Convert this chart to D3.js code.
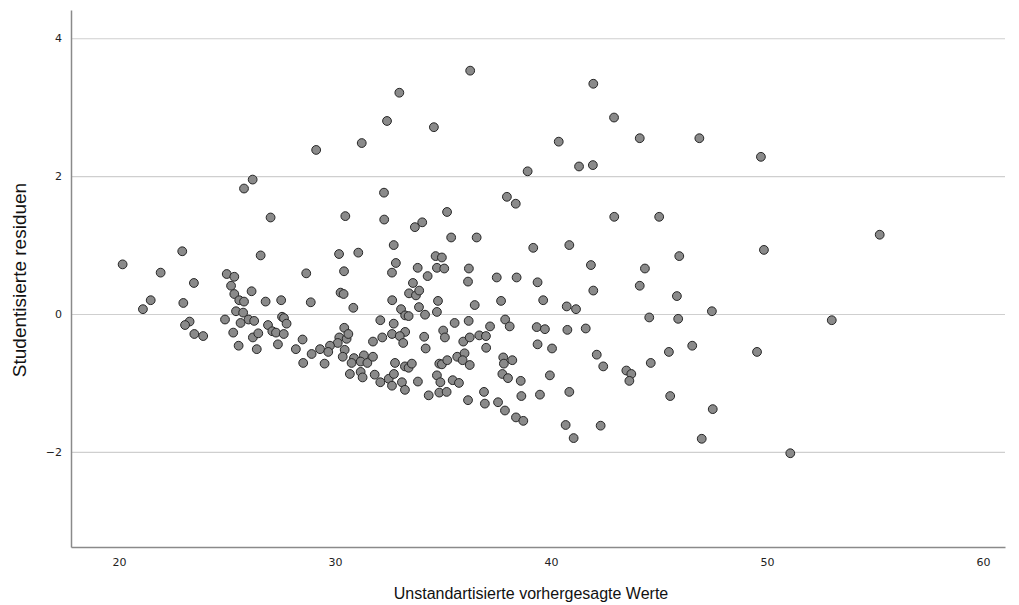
<!DOCTYPE html>
<html lang="de">
<head>
<meta charset="UTF-8">
<title>Streudiagramm Residuen</title>
<style>
    body { margin: 0; background: #fff; }
    .tick text { font-family: "DejaVu Sans", sans-serif; font-size: 11px; fill: #222; }
    .axis-title { font-family: "Liberation Sans", Arial, sans-serif; font-size: 16px; fill: #111; }
    .axis-title.y { font-size: 19px; }
</style>
</head>
<body>
<svg id="chart" width="1019" height="605"></svg>
<script src="https://d3js.org/d3.v7.min.js"></script>
<script>
// vorhergesagte Werte (x) und studentisierte Residuen (y)
const predicted = [
    25.79, 26.19, 22.93, 20.17, 21.93, 23.47, 24.99, 25.34, 25.19, 25.34,
    25.57, 25.79, 26.14, 21.47, 21.11, 22.98, 25.42, 25.75, 26.00, 24.91,
    25.63, 23.27, 23.06, 23.49, 23.90, 25.29, 25.54, 26.20, 26.56, 30.19,
    31.08, 28.67, 30.42, 26.79, 27.51, 28.88, 30.26, 30.40, 30.85, 26.26,
    27.55, 27.64, 26.90, 27.76, 27.10, 27.27, 27.63, 26.45, 26.38, 27.36,
    28.50, 28.19, 30.43, 30.20, 30.54, 30.62, 30.13, 29.77, 29.31, 29.69,
    28.92, 30.45, 30.36, 28.53, 29.52, 30.88, 30.77, 31.34, 31.19, 31.50,
    30.69, 31.19, 31.28, 35.38, 36.56, 32.72, 34.66, 34.95, 32.82, 32.64,
    33.83, 34.72, 35.06, 34.29, 36.20, 36.16, 33.61, 33.43, 33.75, 33.90,
    32.65, 34.77, 36.47, 33.06, 33.89, 34.72, 33.25, 33.41, 34.17, 32.10,
    32.72, 35.54, 36.19, 37.18, 33.25, 32.64, 33.00, 33.16, 32.19, 31.76,
    35.01, 35.09, 34.13, 34.20, 35.94, 36.24, 36.68, 36.99, 37.00, 31.76,
    32.78, 33.24, 33.41, 33.56, 34.83, 34.95, 35.20, 35.66, 36.00, 35.91,
    36.24, 31.84, 32.10, 32.49, 32.73, 32.64, 33.10, 33.24, 33.84, 34.72,
    34.88, 35.45, 35.74, 34.83, 35.17, 34.34, 36.16, 36.90, 36.94, 39.18,
    40.85, 41.85, 37.49, 38.41, 39.38, 41.96, 37.69, 39.64, 40.73, 41.16,
    37.88, 38.09, 39.34, 39.72, 40.76, 41.61, 39.38, 40.05, 42.12, 42.42,
    37.79, 37.82, 38.21, 37.75, 38.01, 38.60, 39.95, 37.55, 37.87, 38.63,
    39.49, 40.85, 38.38, 38.72, 40.68, 42.30, 41.05, 36.26, 32.98, 32.41,
    34.58, 31.24, 29.13, 32.27, 27.02, 30.48, 32.28, 33.70, 34.04, 35.19,
    41.96, 42.92, 40.36, 44.11, 46.87, 49.72, 38.92, 41.30, 41.94, 37.96,
    38.37, 42.93, 45.01, 49.86, 45.94, 44.35, 44.11, 45.83, 47.45, 44.55,
    45.89, 46.54, 45.46, 49.54, 44.62, 43.49, 43.72, 43.63, 45.52, 47.49,
    46.98, 51.08, 55.22, 53.00
];
const residuals = [
    1.82, 1.95, 0.91, 0.72, 0.60, 0.45, 0.58, 0.54, 0.41, 0.29,
    0.20, 0.18, 0.33, 0.20, 0.07, 0.16, 0.04, 0.02, -0.08, -0.08,
    -0.13, -0.11, -0.16, -0.29, -0.32, -0.27, -0.46, -0.34, 0.85, 0.87,
    0.89, 0.59, 0.62, 0.18, 0.20, 0.17, 0.31, 0.29, 0.09, -0.10,
    -0.04, -0.06, -0.16, -0.14, -0.25, -0.27, -0.29, -0.28, -0.51, -0.44,
    -0.37, -0.51, -0.20, -0.34, -0.36, -0.29, -0.42, -0.46, -0.51, -0.55,
    -0.58, -0.52, -0.62, -0.71, -0.72, -0.64, -0.71, -0.60, -0.69, -0.71,
    -0.87, -0.84, -0.92, 1.11, 1.11, 1.00, 0.84, 0.82, 0.74, 0.60,
    0.67, 0.67, 0.66, 0.55, 0.66, 0.47, 0.45, 0.30, 0.27, 0.34,
    0.20, 0.19, 0.13, 0.07, 0.10, 0.03, -0.02, -0.03, -0.01, -0.09,
    -0.14, -0.13, -0.10, -0.18, -0.26, -0.29, -0.32, -0.42, -0.34, -0.40,
    -0.24, -0.34, -0.33, -0.50, -0.40, -0.34, -0.31, -0.32, -0.49, -0.62,
    -0.71, -0.76, -0.78, -0.72, -0.72, -0.73, -0.67, -0.62, -0.57, -0.67,
    -0.74, -0.88, -0.99, -0.94, -0.87, -1.04, -0.99, -1.10, -0.98, -0.89,
    -0.99, -0.96, -1.00, -1.14, -1.13, -1.18, -1.25, -1.13, -1.30, 0.96,
    1.00, 0.71, 0.53, 0.53, 0.46, 0.34, 0.19, 0.20, 0.11, 0.07,
    -0.08, -0.18, -0.19, -0.22, -0.23, -0.21, -0.44, -0.50, -0.59, -0.76,
    -0.63, -0.72, -0.67, -0.87, -0.93, -0.97, -0.89, -1.28, -1.40, -1.19,
    -1.17, -1.13, -1.50, -1.55, -1.61, -1.62, -1.80, 3.53, 3.21, 2.80,
    2.71, 2.48, 2.38, 1.76, 1.40, 1.42, 1.37, 1.26, 1.33, 1.48,
    3.34, 2.85, 2.50, 2.55, 2.55, 2.28, 2.07, 2.14, 2.16, 1.70,
    1.60, 1.41, 1.41, 0.93, 0.84, 0.66, 0.41, 0.26, 0.04, -0.05,
    -0.07, -0.46, -0.55, -0.55, -0.71, -0.82, -0.87, -0.97, -1.19, -1.38,
    -1.81, -2.02, 1.15, -0.09
];
const xTicks = [20, 30, 40, 50, 60];
const yTicks = [-2, 0, 2, 4];

const data = predicted.map((v, i) => ({ x: v, y: residuals[i] }));

const svg = d3.select('#chart');
const plot = { left: 71, right: 1005, top: 10, bottom: 547 };

const xScale = d3.scaleLinear().domain([17.78, 61.02]).range([plot.left, plot.right]);
const yScale = d3.scaleLinear().domain([-3.38, 4.41]).range([plot.bottom, plot.top]);

// Gitterlinien
svg.append('g')
    .attr('transform', `translate(${plot.left},0)`)
    .call(d3.axisLeft(yScale).tickValues(yTicks).tickSize(-(plot.right - plot.left)).tickFormat(''))
    .call(g => g.select('.domain').remove())
    .call(g => g.selectAll('.tick line').attr('stroke', '#cfcfcf').attr('stroke-width', 1.2));

// Y-Achse
svg.append('g')
    .attr('transform', `translate(${plot.left},0)`)
    .call(d3.axisLeft(yScale).tickValues(yTicks).tickSize(0).tickPadding(9).tickSizeOuter(0))
    .call(g => g.select('.domain').attr('stroke', '#8a8a8a').attr('stroke-width', 1.5));

// X-Achse
svg.append('g')
    .attr('transform', `translate(0,${plot.bottom})`)
    .call(d3.axisBottom(xScale).tickValues(xTicks).tickSize(0).tickPadding(11).tickSizeOuter(0))
    .call(g => g.select('.domain').attr('stroke', '#8a8a8a').attr('stroke-width', 1.5));

// Punkte
svg.append('g').selectAll('circle').data(data).enter().append('circle')
    .attr('cx', d => xScale(d.x))
    .attr('cy', d => yScale(d.y))
    .attr('r', 4.4)
    .attr('fill', '#8a8a8a')
    .attr('stroke', '#262626')
    .attr('stroke-width', 1);

// Achsentitel
svg.append('text').attr('class', 'axis-title')
    .attr('x', 531).attr('y', 599)
    .attr('text-anchor', 'middle')
    .text('Unstandartisierte vorhergesagte Werte');

svg.append('text').attr('class', 'axis-title y')
    .attr('transform', 'translate(26,280) rotate(-90)')
    .attr('text-anchor', 'middle')
    .text('Studentisierte residuen');
</script>
</body>
</html>
